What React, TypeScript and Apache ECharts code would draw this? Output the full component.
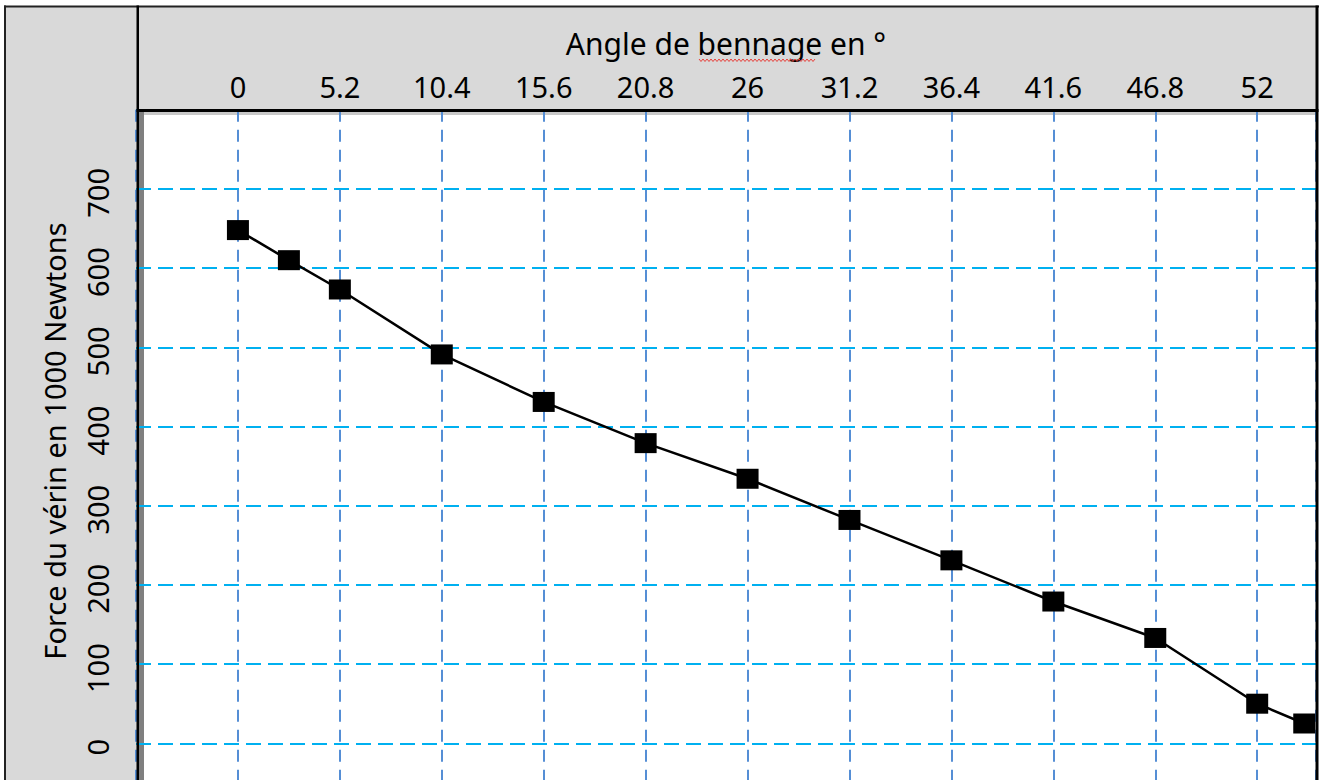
import React, { useEffect, useRef } from 'react';
import * as echarts from 'echarts';

// Data
const angles = [0, 2.6, 5.2, 10.4, 15.6, 20.8, 26, 31.2, 36.4, 41.6, 46.8, 52, 54.4];
const forces = [648, 610, 573, 491, 431, 379, 334, 282, 231, 179, 133, 50, 25];
const xTicks = [0, 5.2, 10.4, 15.6, 20.8, 26, 31.2, 36.4, 41.6, 46.8, 52];
const yTicks = [0, 100, 200, 300, 400, 500, 600, 700];
const xTitle = 'Angle de bennage en °';
const yTitle = 'Force du vérin en 1000 Newtons';

const FONT = '"Noto Sans", sans-serif';

function isTick(list: number[], v: number) {
  return list.some((t) => Math.abs(t - v) < 1e-6);
}

export default function App() {
  const ref = useRef<HTMLDivElement>(null);

  useEffect(() => {
    const chart = echarts.init(ref.current!, null, { renderer: 'svg' });

    const squiggle: number[][] = [];
    for (let i = 0; i <= 58; i++) {
      squiggle.push([699 + i * 2, i % 2 === 0 ? 59 : 61.5]);
    }

    chart.setOption({
      animation: false,
      backgroundColor: '#ffffff',
      grid: {
        left: 136,
        right: 4,
        top: 109.7,
        bottom: -42.5,
        containLabel: false,
        outerBoundsMode: 'none',
      },
      xAxis: {
        type: 'value',
        position: 'top',
        min: -5.2,
        max: 55,
        interval: 5.2,
        axisLine: { show: false, onZero: false },
        axisTick: { show: false },
        axisLabel: {
          margin: 9,
          color: '#000',
          fontFamily: FONT,
          fontSize: 29,
          lineHeight: 29,
          hideOverlap: false,
          formatter: (v: number) => (isTick(xTicks, v) ? String(v) : ''),
        },
        splitLine: {
          show: true,
          lineStyle: { color: '#558ed5', width: 2, type: [12, 8] },
        },
        name: xTitle,
        nameLocation: 'middle',
        nameGap: 51,
        nameMoveOverlap: false,
        nameTextStyle: { color: '#000', fontFamily: FONT, fontSize: 30, lineHeight: 30 },
      },
      yAxis: {
        type: 'value',
        min: -100,
        max: 800,
        interval: 100,
        axisLine: { show: false, onZero: false },
        axisTick: { show: false },
        axisLabel: {
          rotate: 90,
          margin: 24,
          color: '#000',
          fontFamily: FONT,
          fontSize: 29,
          lineHeight: 29,
          padding: [0, 8, 0, 0],
          hideOverlap: false,
          formatter: (v: number) => (isTick(yTicks, v) ? String(v) : ''),
        },
        splitLine: {
          show: true,
          lineStyle: { color: '#00b0f0', width: 2, type: [15, 7] },
        },
      },
      series: [
        {
          type: 'line',
          data: angles.map((a, i) => [a, forces[i]]),
          symbol: 'rect',
          symbolSize: [22, 20],
          lineStyle: { color: '#000', width: 2.5 },
          itemStyle: { color: '#000' },
          silent: true,
          emphasis: { disabled: true },
          z: 3,
        },
      ],
      graphic: {
        elements: [
          // background panels
          { type: 'rect', z: -10, silent: true, shape: { x: 5, y: 6, width: 1313, height: 104 }, style: { fill: '#d9d9d9' } },
          { type: 'rect', z: -10, silent: true, shape: { x: 5, y: 6, width: 133, height: 774 }, style: { fill: '#d9d9d9' } },
          { type: 'rect', z: -9, silent: true, shape: { x: 138, y: 111, width: 1178, height: 4 }, style: { fill: '#c8c8c8' } },
          { type: 'rect', z: -8, silent: true, shape: { x: 138, y: 111, width: 6, height: 669 }, style: { fill: '#7f7f7f' } },
          // frame lines
          { type: 'rect', z: 100, silent: true, shape: { x: 4, y: 5.5, width: 1315, height: 2 }, style: { fill: '#222' } },
          { type: 'rect', z: 100, silent: true, shape: { x: 4, y: 5.5, width: 2, height: 775 }, style: { fill: '#222' } },
          { type: 'rect', z: 100, silent: true, shape: { x: 1315.5, y: 5.5, width: 3, height: 775 }, style: { fill: '#000' } },
          { type: 'rect', z: 100, silent: true, shape: { x: 136.5, y: 109, width: 1182, height: 3 }, style: { fill: '#000' } },
          { type: 'rect', z: 100, silent: true, shape: { x: 136.5, y: 5.5, width: 2.5, height: 775 }, style: { fill: '#000' } },
          // spell-check squiggle under "bennage"
          { type: 'polyline', z: 100, silent: true, shape: { points: squiggle }, style: { stroke: '#e8403a', lineWidth: 1, fill: null } },
          // y axis title
          {
            type: 'text',
            z: 100,
            silent: true,
            x: 54,
            y: 441,
            rotation: Math.PI / 2,
            style: {
              text: yTitle,
              fill: '#000',
              fontFamily: FONT,
              fontSize: 29,
              align: 'center',
              verticalAlign: 'middle',
              textAlign: 'center',
              textVerticalAlign: 'middle',
            },
          },
        ],
      },
    });

    return () => chart.dispose();
  }, []);

  return (
    <div
      ref={ref}
      style={{ position: 'absolute', left: 0, top: 0, width: 1320, height: 780 }}
    />
  );
}
